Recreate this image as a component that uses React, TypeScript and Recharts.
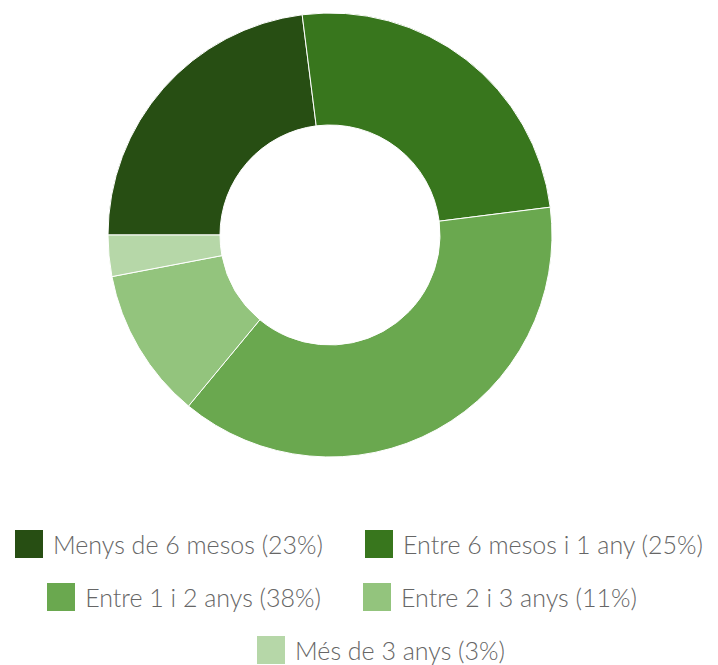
import React from 'react';
import { PieChart, Pie, Cell, Legend } from 'recharts';

const labels = [
  'Menys de 6 mesos',
  'Entre 6 mesos i 1 any',
  'Entre 1 i 2 anys',
  'Entre 2 i 3 anys',
  'Més de 3 anys',
];
const values = [23, 25, 38, 11, 3];
const COLORS = ['#274e13', '#38761d', '#6aa84f', '#93c47d', '#b6d7a8'];

const data = labels.map((name, i) => ({ name, value: values[i] }));

// legend rows, with a small horizontal nudge each (as in the original layout)
const legendRows = [[0, 1], [2, 3], [4]];
const rowShift = [0, -34, 44];

const renderLegend = () => {
  const item = (i: number) => (
    <div key={i} style={{ display: 'flex', alignItems: 'center', flexShrink: 0 }}>
      <div style={{ width: 28, height: 28, background: COLORS[i], marginRight: 10 }} />
      <span>{`${labels[i]} (${values[i]}%)`}</span>
    </div>
  );
  return (
    <div
      style={{
        fontFamily: 'Lato',
        fontWeight: 300,
        fontSize: 25,
        color: '#666',
        whiteSpace: 'nowrap',
      }}
    >
      {legendRows.map((r, k) => (
        <div
          key={k}
          style={{
            display: 'flex',
            justifyContent: 'center',
            gap: 42,
            height: 53,
            alignItems: 'center',
            paddingLeft: Math.max(rowShift[k], 0),
            paddingRight: Math.max(-rowShift[k], 0),
          }}
        >
          {r.map(item)}
        </div>
      ))}
    </div>
  );
};

export default function App() {
  return (
    <div style={{ position: 'absolute', left: 0, top: 0 }}>
      <PieChart width={718} height={665} margin={{ top: 0, right: 0, bottom: 0, left: 0 }}>
        <Pie
          data={data}
          dataKey="value"
          nameKey="name"
          cx={330}
          cy={235}
          innerRadius={110}
          outerRadius={222}
          startAngle={180}
          endAngle={-180}
          stroke="#fff"
          strokeWidth={1}
          isAnimationActive={false}
        >
          {data.map((d, i) => (
            <Cell key={d.name} fill={COLORS[i]} />
          ))}
        </Pie>
        <Legend
          content={renderLegend}
          wrapperStyle={{ top: 517, left: 0, width: 718 }}
        />
      </PieChart>
    </div>
  );
}
